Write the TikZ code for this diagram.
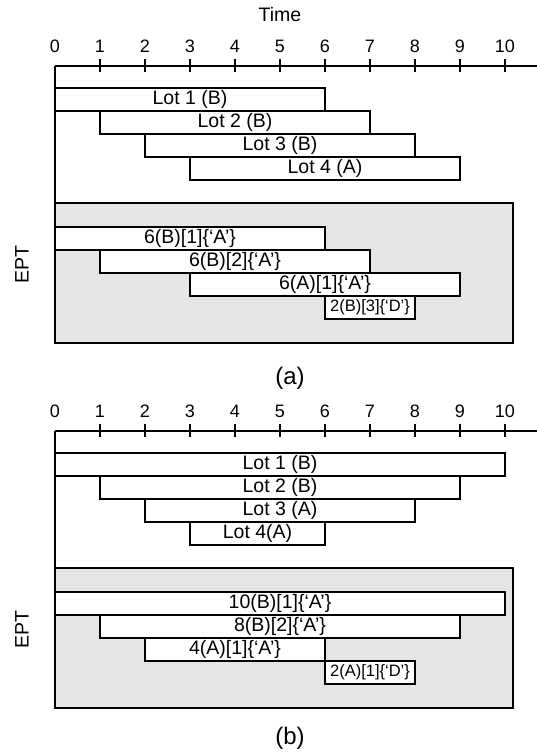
\documentclass[tikz,border=0pt]{standalone}
\usepackage{fontspec}
\setmainfont{Liberation Sans}
\usepackage{xcolor}
\usepackage{tikz}

\begin{document}
\begin{tikzpicture}[
    x=45pt, y=-1pt,
    axis/.style={line width=1.4pt},
    tickmark/.style={line width=1.4pt},
    bar/.style={draw, fill=white, line width=1.4pt},
    eptbox/.style={draw, fill=black!10, line width=1.4pt},
    lbl/.style={font=\fontsize{19.5}{21}\selectfont, inner sep=0pt},
    small/.style={font=\fontsize{16.5}{18}\selectfont, inner sep=0pt},
    num/.style={font=\fontsize{18}{20}\selectfont, inner sep=0pt},
    caplbl/.style={font=\fontsize{24}{26}\selectfont, inner sep=0pt}
]
\useasboundingbox (-55/45,0) rectangle (482/45,756);

% (a)
\node[lbl] (time) at (5,15) {Time};
\begin{scope}
\foreach \i in {0,...,10} \node[num] (ta\i) at (\i,46) {\i};
\foreach \i in {1,...,10} \draw[tickmark] (\i,59) -- (\i,72);
\draw[eptbox] (0,203) rectangle (458/45,343);
\draw[axis] (0,66) -- (11,66);
\draw[axis] (0,66) -- (0,203);
\draw[bar] (0,88) rectangle (6,111) node[midway, lbl] (lota1) {Lot 1 (B)};
\draw[bar] (1,111) rectangle (7,134) node[midway, lbl] (lota2) {Lot 2 (B)};
\draw[bar] (2,134) rectangle (8,157) node[midway, lbl] (lota3) {Lot 3 (B)};
\draw[bar] (3,157) rectangle (9,180) node[midway, lbl] (lota4) {Lot 4 (A)};
\node[lbl, rotate=90] (epta) at (-33/45,265) {EPT};
\draw[bar] (0,227) rectangle (6,250) node[midway, lbl] (epta1) {6(B)[1]\{‘A’\}};
\draw[bar] (1,250) rectangle (7,273) node[midway, lbl] (epta2) {6(B)[2]\{‘A’\}};
\draw[bar] (3,273) rectangle (9,296) node[midway, lbl] (epta3) {6(A)[1]\{‘A’\}};
\draw[bar] (6,296) rectangle (8,319) node[midway, small] (epta4) {2(B)[3]\{‘D’\}};
\end{scope}
\node[caplbl] (capa) at (235/45,378) {(a)};

% (b)
\begin{scope}[shift={(0,365)}]
\foreach \i in {0,...,10} \node[num] (tb\i) at (\i,46) {\i};
\foreach \i in {1,...,10} \draw[tickmark] (\i,59) -- (\i,72);
\draw[eptbox] (0,203) rectangle (458/45,343);
\draw[axis] (0,66) -- (11,66);
\draw[axis] (0,66) -- (0,203);
\draw[bar] (0,88) rectangle (10,111) node[midway, lbl] (lotb1) {Lot 1 (B)};
\draw[bar] (1,111) rectangle (9,134) node[midway, lbl] (lotb2) {Lot 2 (B)};
\draw[bar] (2,134) rectangle (8,157) node[midway, lbl] (lotb3) {Lot 3 (A)};
\draw[bar] (3,157) rectangle (6,180) node[midway, lbl] (lotb4) {Lot 4(A)};
\node[lbl, rotate=90] (eptb) at (-33/45,265) {EPT};
\draw[bar] (0,227) rectangle (10,250) node[midway, lbl] (eptb1) {10(B)[1]\{‘A’\}};
\draw[bar] (1,250) rectangle (9,273) node[midway, lbl] (eptb2) {8(B)[2]\{‘A’\}};
\draw[bar] (2,273) rectangle (6,296) node[midway, lbl] (eptb3) {4(A)[1]\{‘A’\}};
\draw[bar] (6,296) rectangle (8,319) node[midway, small] (eptb4) {2(A)[1]\{‘D’\}};
\end{scope}
\node[caplbl] (capb) at (235/45,738) {(b)};
\end{tikzpicture}
\end{document}
